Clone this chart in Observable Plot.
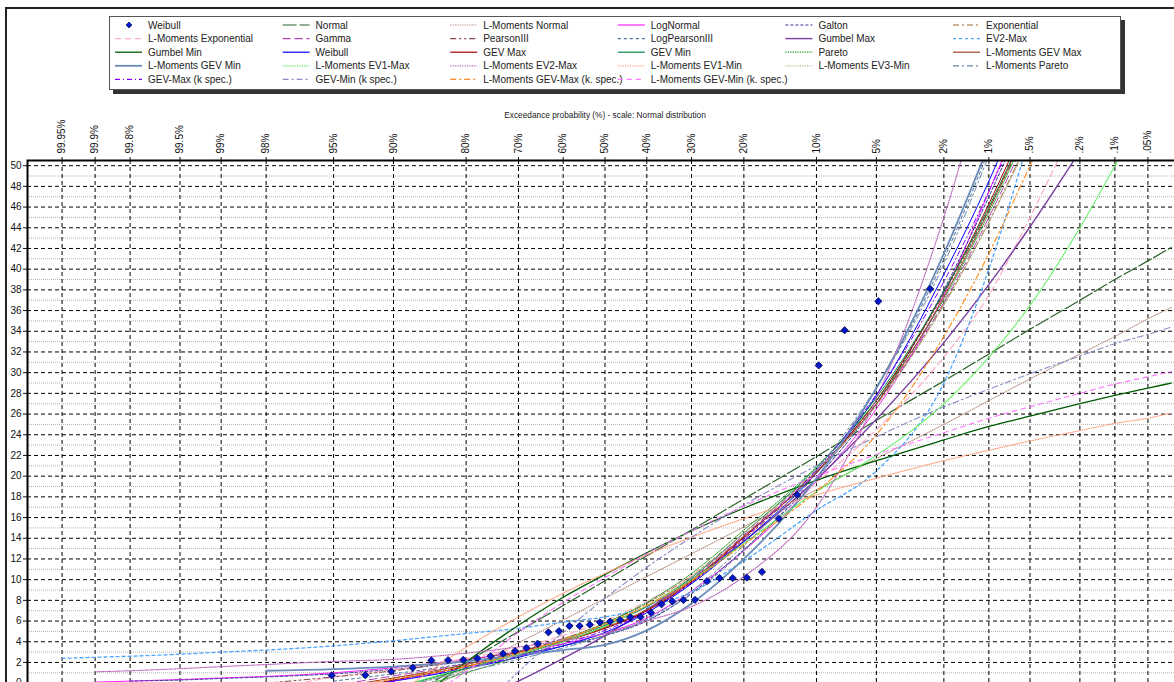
<!DOCTYPE html>
<html><head><meta charset="utf-8">
<script src="https://cdn.jsdelivr.net/npm/d3@7"></script>
<script src="https://cdn.jsdelivr.net/npm/@observablehq/plot@0.6"></script>
<style>
html,body{margin:0;padding:0;background:#fff;overflow:hidden;}
#wrap{position:relative;width:1174px;height:682px;overflow:hidden;font-family:"Liberation Sans",Arial,sans-serif;}
#outer{position:absolute;left:5px;top:7px;width:1300px;height:800px;border-left:2px solid #222;border-top:2px solid #222;}
#chart{position:absolute;left:0;top:0;width:1190px;height:700px;}
#chart svg{max-width:none !important;width:1190px;height:700px;}
#legend{position:absolute;left:109px;top:16px;width:1010px;height:72px;border:1px solid #555;background:#fff;box-shadow:4px 4px 0 #333;}
#legend svg{display:block;}
</style></head>
<body><div id="wrap"><div id="outer"></div><div id="chart"></div><div id="legend"></div></div>
<script>
// ---------------- DATA ----------------
const probTicks = [99.95, 99.9, 99.8, 99.5, 99, 98, 95, 90, 80, 70, 60, 50, 40, 30, 20, 10, 5, 2, 1, 0.5, 0.2, 0.1, 0.05];
const probLabels = ["99.95%","99.9%","99.8%","99.5%","99%","98%","95%","90%","80%","70%","60%","50%","40%","30%","20%","10%","5%","2%","1%",".5%",".2%",".1%",".05%"];
const yTicks = [0,2,4,6,8,10,12,14,16,18,20,22,24,26,28,30,32,34,36,38,40,42,44,46,48,50];
const yMinorTicks = [1,3,5,7,9,11,13,15,17,19,21,23,25,27,29,31,33,35,37,39,41,43,45,47,49];
const axisTitle = "Exceedance probability (%) - scale: Normal distribution";

// observed values (Weibull plotting positions)
const obsProb = [2.44,4.88,7.32,9.76,12.2,14.63,17.07,19.51,21.95,24.39,26.83,29.27,31.71,34.15,36.59,39.02,41.46,43.9,46.34,48.78,51.22,53.66,56.1,58.54,60.98,63.41,65.85,68.29,70.73,73.17,75.61,78.05,80.49,82.93,85.37,87.8,90.24,92.68,95.12];
const obsValue = [38.1,36.9,34.1,30.7,18.2,15.9,10.75,10.2,10.15,10.15,9.85,8.05,8.03,7.9,7.62,6.8,6.4,6.38,6.1,5.95,5.88,5.65,5.53,5.52,5.03,4.91,3.81,3.4,3.1,2.85,2.61,2.4,2.25,2.22,2.2,1.49,1.13,0.77,0.75];

// probability grid at which fitted curves were read
const gridProb = [99.95,99.9,99.8,99.5,99,98,95,90,80,70,60,50,40,30,20,10,5,2,1,0.5,0.2,0.1,0.05,0.03];
const n = null;
const fitNormal      = [n,n,n,n,n,n,-5.6,-2.1,2.0,5.0,7.5,9.9,12.3,14.8,17.8,21.9,25.4,29.2,31.8,34.2,37.0,39.0,40.8,42.1];
const fitLMNormal    = [n,n,n,n,n,n,n,-2.3,1.3,3.9,6.1,8.2,10.3,12.5,15.1,18.7,21.7,25.0,27.3,29.4,31.8,33.5,35.2,36.3];
const fitLogNormal   = [n,0.1,0.2,0.35,0.5,0.65,1.0,1.5,2.3,3.0,3.8,4.8,6.3,8.9,12.8,19.5,26.5,37.5,47.5,57,n,n,n,n];
const fitGalton      = [n,n,0.2,0.3,0.45,0.6,0.9,1.35,2.1,2.8,3.6,4.6,6.0,8.7,12.9,19.8,27,38,47,56,n,n,n,n];
const fitExponential = [n,n,n,n,n,n,n,0.5,1.7,3.0,4.3,5.8,7.7,10.4,14.5,20.6,26.9,36.6,44.6,52.8,63,n,n,n];
const fitLMExponential = [n,n,n,n,n,-0.7,0.6,1.3,2.4,3.4,4.6,6.0,7.9,10.4,14.0,19.4,24.5,31.5,37.5,45,55,n,n,n];
const fitGamma       = [n,n,n,n,n,n,-0.2,0.7,1.9,3.1,4.3,5.6,7.4,10.1,14.3,20.5,27.0,36.8,45,53.5,n,n,n,n];
const fitPearson3    = [n,n,n,n,n,0.0,0.6,1.2,2.2,3.1,4.1,5.3,7.0,9.7,13.9,20.4,27.3,37.6,45.8,54,n,n,n,n];
const fitLogPearson3 = [n,n,n,n,n,n,0.2,0.9,1.9,2.7,3.6,4.6,6.1,8.6,12.8,20.3,28.5,41,51.5,n,n,n,n,n];
const fitGumbelMax   = [n,n,n,n,n,n,n,n,-2.1,0.2,2.4,4.6,7.1,10.0,13.7,19.7,25.5,32.9,38.5,44.1,51.4,n,n,n];
const fitEV2Max      = [2.4,2.5,2.6,2.8,3.0,3.2,3.6,4.1,4.8,5.3,5.9,6.4,7.3,8.8,11.8,16.7,20.5,29,40,53,n,n,n,n];
const fitGumbelMin   = [n,n,n,n,n,n,n,-3.6,2.05,5.6,8.3,10.5,12.6,14.7,16.9,19.6,21.5,23.5,24.8,25.8,27.0,27.8,28.5,29.0];
const fitWeibull     = [n,n,n,n,n,n,-0.6,0.2,1.4,2.5,3.6,4.9,6.8,9.6,13.7,20.3,27.8,39.5,48.5,58,n,n,n,n];
const fitGEVMax      = [n,n,n,n,n,n,-0.8,0.3,1.6,2.8,4.0,5.3,7.0,9.8,14.1,20.4,27.3,37.8,46.3,55,n,n,n,n];
const fitGEVMin      = [n,n,n,n,n,n,n,-0.5,1.4,2.8,4.2,5.6,7.4,10.2,14.5,20.8,27.6,37.8,46,54.5,n,n,n,n];
const fitPareto      = [n,n,n,n,n,n,n,-1,1.0,2.6,4.2,5.8,7.8,10.6,14.8,20.9,27.3,37.1,45.4,54,n,n,n,n];
const fitLMGEVMax    = [n,n,n,n,n,n,-0.4,0.5,1.8,3.0,4.1,5.4,7.1,9.9,14.2,20.3,27.0,37.3,45.7,54.5,n,n,n,n];
const fitLMGEVMin    = [n,n,n,n,n,1.2,1.35,1.6,2.1,2.7,3.2,3.7,5.1,7.7,12.0,19.8,28.5,41.5,52,n,n,n,n,n];
const fitLMEV1Max    = [n,n,n,n,n,n,n,-0.5,1.5,2.8,4.0,5.5,7.5,10,13.5,18.5,22,27,31.5,36.5,44,50,56,n];
const fitLMEV2Max    = [n,1.1,1.2,1.4,1.6,1.8,2.1,2.3,2.9,3.5,4.1,4.8,6.0,7.4,10.3,17,27.5,45,60,n,n,n,n,n];
const fitLMEV1Min    = [n,n,n,n,n,n,n,-1.3,3.45,6.4,8.7,10.6,12.4,14.1,15.9,18.2,19.8,21.5,22.5,23.4,24.4,25.1,25.6,26.1];
const fitLMEV3Min    = [n,n,n,n,n,n,n,-0.6,1.3,2.8,4.2,5.7,7.5,10.3,14.5,20.5,26.8,36.5,44.5,52.5,62,n,n,n];
const fitLMPareto    = [n,n,n,n,n,n,n,-0.5,1.1,2.3,3.4,4.6,6.2,8.9,13.3,20.6,28.6,40.5,51,n,n,n,n,n];
const fitGEVMaxK     = [n,n,n,n,n,n,-0.9,0.2,1.5,2.6,3.8,5.1,6.9,9.7,14.0,20.6,27.9,38.8,47.5,56.5,n,n,n,n];
const fitGEVMinK     = [n,n,n,n,n,n,n,n,-4,1.1,4.9,8.2,11.2,14.1,17.2,21.0,23.8,26.7,28.4,29.9,31.6,32.8,33.7,34.4];
const fitLMGEVMaxK   = [n,n,n,n,n,n,-0.5,0.4,1.6,2.9,4.2,5.7,7.5,9.9,13.4,18.5,24,33.5,41.5,50,60,n,n,n];
const fitLMGEVMinK   = [n,n,n,n,n,n,n,-3,1.1,4.9,7.8,10.2,12.5,14.7,17.1,20.0,22.1,24.2,25.6,26.7,28.0,28.9,29.6,30.1];

const seriesNames = ["Weibull","Normal","L-Moments Normal","LogNormal","Galton","Exponential",
  "L-Moments Exponential","Gamma","PearsonIII","LogPearsonIII","Gumbel Max","EV2-Max",
  "Gumbel Min","Weibull","GEV Max","GEV Min","Pareto","L-Moments GEV Max",
  "L-Moments GEV Min","L-Moments EV1-Max","L-Moments EV2-Max","L-Moments EV1-Min","L-Moments EV3-Min","L-Moments Pareto",
  "GEV-Max (k spec.)","GEV-Min (k spec.)","L-Moments GEV-Max (k. spec.)","L-Moments GEV-Min (k. spec.)"];
const seriesValues = [null, fitNormal, fitLMNormal, fitLogNormal, fitGalton, fitExponential,
  fitLMExponential, fitGamma, fitPearson3, fitLogPearson3, fitGumbelMax, fitEV2Max,
  fitGumbelMin, fitWeibull, fitGEVMax, fitGEVMin, fitPareto, fitLMGEVMax,
  fitLMGEVMin, fitLMEV1Max, fitLMEV2Max, fitLMEV1Min, fitLMEV3Min, fitLMPareto,
  fitGEVMaxK, fitGEVMinK, fitLMGEVMaxK, fitLMGEVMinK];

// ---------------- STYLES ----------------
const seriesStyles = [
  null,
  {c:"#2a622a", d:"14,3", w:1.2},
  {c:"#b08878", d:"1.2,1.2", w:1},
  {c:"#ff22ff", d:null, w:1},
  {c:"#333399", d:"3,2", w:1},
  {c:"#996633", d:"6,3,2,3", w:1},
  {c:"#ffb0c8", d:"6,4", w:1.3},
  {c:"#b040b0", d:"8,4", w:1},
  {c:"#804848", d:"6,3,2,3,2,3", w:1},
  {c:"#4f6f99", d:"3,3", w:1},
  {c:"#7a3fa0", d:null, w:1.4},
  {c:"#4da6ff", d:"3,3", w:1.3},
  {c:"#005a00", d:null, w:1.3},
  {c:"#0000ff", d:null, w:1},
  {c:"#a00000", d:null, w:1},
  {c:"#00884a", d:null, w:1},
  {c:"#1a9a1a", d:"1.2,1.2", w:1},
  {c:"#a0402a", d:null, w:1},
  {c:"#6a8cba", d:null, w:1.8},
  {c:"#55ee55", d:"1.2,1.2", w:1.1},
  {c:"#bb66bb", d:"1.2,1.2", w:1.1},
  {c:"#ffa07a", d:"1.2,1.2", w:1.1},
  {c:"#b8b890", d:"1.2,1.2", w:1},
  {c:"#6a88aa", d:"6,3,2,3", w:1},
  {c:"#7f00ff", d:"5,3,1,3", w:1},
  {c:"#8c8cc8", d:"6,3,2,3", w:1.1},
  {c:"#ff8c1a", d:"6,3,2,3", w:1.1},
  {c:"#ff77ff", d:"5,4", w:1.1}
];

// inverse standard normal CDF (normal probability paper)
function probit(p) {
  const a=[-3.969683028665376e+01,2.209460984245205e+02,-2.759285104469687e+02,1.383577518672690e+02,-3.066479806614716e+01,2.506628277459239e+00];
  const b=[-5.447609879822406e+01,1.615858368580409e+02,-1.556989798598866e+02,6.680131188771972e+01,-1.328068155288572e+01];
  const c=[-7.784894002430293e-03,-3.223964580411365e-01,-2.400758277161838e+00,-2.549732539343734e+00,4.374664141464968e+00,2.938163982698783e+00];
  const d=[7.784695709041462e-03,3.224671290700398e-01,2.445134137142996e+00,3.754408661907416e+00];
  const pl=0.02425, ph=1-pl;
  if (p<pl) { const q=Math.sqrt(-2*Math.log(p)); return (((((c[0]*q+c[1])*q+c[2])*q+c[3])*q+c[4])*q+c[5])/((((d[0]*q+d[1])*q+d[2])*q+d[3])*q+1); }
  if (p<=ph) { const q=p-0.5, r=q*q; return (((((a[0]*r+a[1])*r+a[2])*r+a[3])*r+a[4])*r+a[5])*q/(((((b[0]*r+b[1])*r+b[2])*r+b[3])*r+b[4])*r+1); }
  const q=Math.sqrt(-2*Math.log(1-p)); return -(((((c[0]*q+c[1])*q+c[2])*q+c[3])*q+c[4])*q+c[5])/((((d[0]*q+d[1])*q+d[2])*q+d[3])*q+1);
}
const zOf = P => probit(1 - P/100);

const tickZ = probTicks.map(zOf);
const labelByZ = new Map(tickZ.map((z,i)=>[z, probLabels[i]]));

const points = obsProb.map((p,i)=>({z: zOf(p), v: obsValue[i]}));

const lineMarks = [];
seriesValues.forEach((vals, si) => {
  if (!vals) return;
  const st = seriesStyles[si];
  const rows = [];
  vals.forEach((v,i)=>{ if (v !== null) rows.push({z: zOf(gridProb[i]), v}); });
  lineMarks.push(Plot.line(rows, {x:"z", y:"v", stroke: st.c, strokeWidth: st.w,
    strokeDasharray: st.d || undefined, curve:"monotone-x", clip:true}));
});

const chart = Plot.plot({
  width: 1190, height: 700,
  marginLeft: 27, marginRight: 8, marginTop: 160, marginBottom: 7,
  x: {domain: [-3.5, 3.5]},
  y: {domain: [-1, 50.5]},
  style: {fontFamily: "'Liberation Sans', Arial, sans-serif", fontSize: "10px", color: "#111", background: "transparent", maxWidth: "none"},
  marks: [
    Plot.gridY(yMinorTicks, {stroke:"#b4b4b4", strokeOpacity:1, strokeDasharray:"1,1"}),
    Plot.gridY(yTicks, {stroke:"#000", strokeOpacity:1, strokeDasharray:"4,3"}),
    Plot.gridX(tickZ, {stroke:"#000", strokeOpacity:1, strokeDasharray:"4,3"}),
    ...lineMarks,
    Plot.dot(points, {x:"z", y:"v", symbol:"diamond2", r:3.3, fill:"#0018c8", stroke:"#00004a", strokeWidth:0.7}),
    Plot.frame({stroke:"#000", strokeWidth:2}),
    Plot.axisY(yTicks, {tickSize:4, tickPadding:2, label:null, fontSize:10}),
    Plot.axisX(tickZ, {anchor:"top", tickFormat: d => labelByZ.get(d), tickRotate:-90, tickSize:4, tickPadding:3, label:null, fontSize:10}),
    Plot.text([axisTitle], {text: d => d, frameAnchor:"top", dy:-48, fontSize:8.3, fill:"#222"})
  ]
});
document.getElementById("chart").appendChild(chart);

// ---------------- LEGEND ----------------
const lg = d3.select("#legend").append("svg").attr("width",1010).attr("height",72)
  .style("font-family","'Liberation Sans', Arial, sans-serif").style("font-size","10px");
seriesNames.forEach((name, i) => {
  const r = Math.floor(i/6), c = i % 6;
  const x0 = 5 + c*167.6, y0 = 8 + r*13.6;
  const st = seriesStyles[i];
  if (!st) {
    lg.append("path").attr("d", d3.symbol(d3.symbolSquare, 18)()).attr("transform",`translate(${x0+14},${y0}) rotate(45)`)
      .attr("fill","#0018c8").attr("stroke","#00004a").attr("stroke-width",0.6);
  } else {
    lg.append("line").attr("x1",x0).attr("x2",x0+27).attr("y1",y0).attr("y2",y0)
      .attr("stroke",st.c).attr("stroke-width",Math.max(1.2,st.w)).attr("stroke-dasharray",st.d);
  }
  lg.append("text").attr("x",x0+33).attr("y",y0).attr("dy","0.35em").attr("fill","#222").text(name);
});
</script></body></html>
